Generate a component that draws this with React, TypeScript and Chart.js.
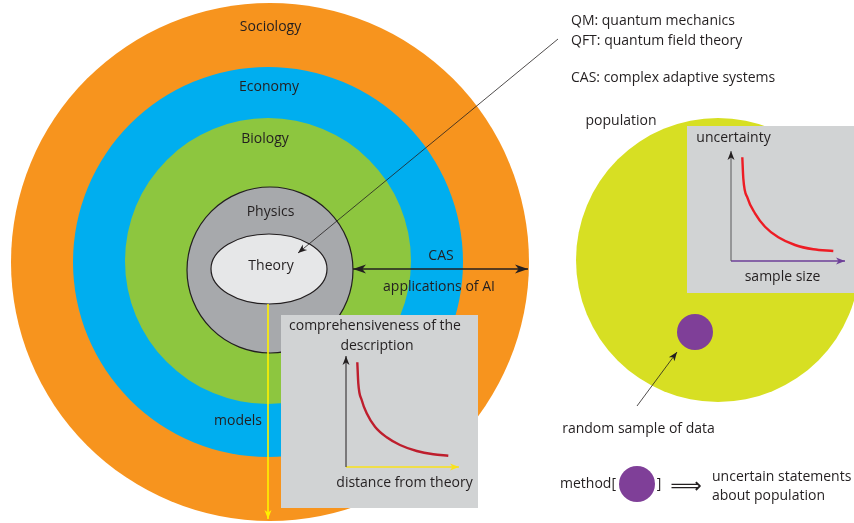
import { useEffect, useRef } from "react";
import { Chart, registerables } from "chart.js";
Chart.register(...registerables);

const W = 854;
const H = 523;

// Concentric fields (outer → inner)
const FIELDS = ["Sociology", "Economy", "Biology", "Physics"];
const FIELD_X = [270, 268, 268, 270];
const FIELD_Y = [262, 262, 261, 270];
const FIELD_R = [259, 195, 143, 83];
const FIELD_LABEL_X = [270.5, 269, 265, 270.5];
const FIELD_LABEL_Y = [27, 87, 139, 212];

// Theory ellipse
const THEORY = ["Theory"];
const THEORY_X = [269];
const THEORY_Y = [269];
const THEORY_RX = [58];
const THEORY_RY = [35];

// Population & samples
const POP_X = [718];
const POP_Y = [260];
const POP_R = [142];
const SAMPLE_X = [695, 637];
const SAMPLE_Y = [332, 484];
const SAMPLE_R = [18, 18];

// Inset boxes
const BOX_X0 = [281, 687];
const BOX_X1 = [478, 854];
const BOX_Y0 = [315, 126];
const BOX_Y1 = [508, 293];

// Inset curves
const CURVE1_X = [357.3, 358.3, 361.7, 366.7, 375, 386.7, 400, 416.7, 433.3, 448.3];
const CURVE1_Y = [362.3, 383.3, 400, 413.3, 426.7, 437.3, 445, 451, 454.3, 455.7];
const CURVE2_X = [742.3, 743.3, 747.7, 755, 765, 778.3, 795, 813.3, 833.3];
const CURVE2_Y = [157.3, 178.3, 198.3, 213.3, 226.7, 237.3, 245, 249.3, 251];

// Arrows
const ARROWS = ["pointer", "cas", "models", "axis1y", "axis1x", "axis2y", "axis2x", "sample"];
const ARROW_X0 = [558, 353, 268, 346, 346, 731, 731, 637];
const ARROW_Y0 = [39, 269, 304, 467, 467, 261, 261, 406];
const ARROW_X1 = [298, 528, 268, 346, 459, 731, 845, 677];
const ARROW_Y1 = [253, 269, 519, 356, 467, 151, 261, 352];
const ARROW_BOTH = [false, true, false, false, false, false, false, false];

// Text labels
const TEXTS = [
  "QM: quantum mechanics",
  "QFT: quantum field theory",
  "CAS: complex adaptive systems",
  "population",
  "uncertainty",
  "sample size",
  "random sample of data",
  "method[",
  "]",
  "\u27F9",
  "uncertain statements",
  "about population",
  "comprehensiveness of the",
  "description",
  "distance from theory",
  "CAS",
  "applications of AI",
  "models",
];
const TEXT_X = [571, 571, 571, 621, 733.5, 782.5, 638.5, 588, 659, 686, 712, 712, 375, 377, 404.5, 441, 439, 238];
const TEXT_Y = [21, 41, 78, 121, 138, 277, 429, 484, 484, 487, 477, 496, 326, 346, 483, 256, 287, 421];
const TEXT_ALIGN = ["left", "left", "left", "center", "center", "center", "center", "center", "center", "center", "left", "left", "center", "center", "center", "center", "center", "center"];

const FIELD_COLORS = ["#f7941e", "#00aeef", "#8dc63f"];
const POP_COLOR = "#d7df23";
const TEXT_COLOR = "#231f20";
const ARROW_COLORS = ["#231f20", "#231f20", "#fff200", "#231f20", "#f9e21b", "#58595b", "#6d3f98", "#231f20"];
const ARROW_HEAD_COLORS = ["#231f20", "#231f20", "#fff200", "#231f20", "#f9e21b", "#231f20", "#6d3f98", "#231f20"];
const ARROW_WIDTHS = [0.8, 1.3, 1.6, 1, 1.6, 1, 1.4, 0.8];
const FONT = "14px 'Open Sans', 'Noto Sans', sans-serif";

function drawHead(ctx: CanvasRenderingContext2D, x1: number, y1: number, x2: number, y2: number, color: string, len: number, half: number) {
  const a = Math.atan2(y2 - y1, x2 - x1);
  ctx.save();
  ctx.translate(x2, y2);
  ctx.rotate(a);
  ctx.beginPath();
  ctx.moveTo(0, 0);
  ctx.lineTo(-len, half);
  ctx.lineTo(-len * 0.72, 0);
  ctx.lineTo(-len, -half);
  ctx.closePath();
  ctx.fillStyle = color;
  ctx.fill();
  ctx.restore();
}

const diagramPlugin = {
  id: "diagram",
  afterDatasetDraw(chart: any, args: any) {
    const ds = chart.data.datasets[args.index];
    if (ds.label !== "Physics") return;
    const ctx = chart.ctx as CanvasRenderingContext2D;
    const xs = chart.scales.x;
    const ys = chart.scales.y;
    THEORY.forEach((_, i) => {
      const cx = xs.getPixelForValue(THEORY_X[i]);
      const cy = ys.getPixelForValue(THEORY_Y[i]);
      const rx = Math.abs(xs.getPixelForValue(THEORY_X[i] + THEORY_RX[i]) - cx);
      const ry = Math.abs(ys.getPixelForValue(THEORY_Y[i] + THEORY_RY[i]) - cy);
      ctx.save();
      ctx.beginPath();
      ctx.ellipse(cx, cy, rx, ry, 0, 0, Math.PI * 2);
      ctx.fillStyle = "#e6e7e8";
      ctx.fill();
      ctx.lineWidth = 1.2;
      ctx.strokeStyle = TEXT_COLOR;
      ctx.stroke();
      ctx.restore();
    });
    BOX_X0.forEach((_, i) => {
      const x0 = xs.getPixelForValue(BOX_X0[i]);
      const x1 = xs.getPixelForValue(BOX_X1[i]);
      const y0 = ys.getPixelForValue(BOX_Y0[i]);
      const y1 = ys.getPixelForValue(BOX_Y1[i]);
      ctx.save();
      ctx.fillStyle = "#d1d3d4";
      ctx.fillRect(Math.min(x0, x1), Math.min(y0, y1), Math.abs(x1 - x0), Math.abs(y1 - y0));
      ctx.restore();
    });
  },
  afterDatasetsDraw(chart: any) {
    const ctx = chart.ctx as CanvasRenderingContext2D;
    const xs = chart.scales.x;
    const ys = chart.scales.y;
    ARROWS.forEach((_, i) => {
      const x0 = xs.getPixelForValue(ARROW_X0[i]);
      const y0 = ys.getPixelForValue(ARROW_Y0[i]);
      const x1 = xs.getPixelForValue(ARROW_X1[i]);
      const y1 = ys.getPixelForValue(ARROW_Y1[i]);
      const big = i === 1;
      const len = big ? 13 : 9;
      const half = big ? 4.5 : 3.5;
      drawHead(ctx, x0, y0, x1, y1, ARROW_HEAD_COLORS[i], len, half);
      if (ARROW_BOTH[i]) drawHead(ctx, x1, y1, x0, y0, ARROW_HEAD_COLORS[i], len, half);
    });
    ctx.save();
    ctx.fillStyle = TEXT_COLOR;
    ctx.textBaseline = "middle";
    ctx.font = FONT;
    ctx.textAlign = "center";
    FIELDS.forEach((t, i) => {
      ctx.fillText(t, xs.getPixelForValue(FIELD_LABEL_X[i]), ys.getPixelForValue(FIELD_LABEL_Y[i]));
    });
    THEORY.forEach((t, i) => {
      ctx.fillText(t, xs.getPixelForValue(THEORY_X[i] + 2), ys.getPixelForValue(THEORY_Y[i] - 3));
    });
    TEXTS.forEach((t, i) => {
      ctx.textAlign = TEXT_ALIGN[i] as CanvasTextAlign;
      ctx.font = t === "\u27F9" ? "22px 'DejaVu Sans', sans-serif" : FONT;
      ctx.fillText(t, xs.getPixelForValue(TEXT_X[i]), ys.getPixelForValue(TEXT_Y[i]));
    });
    ctx.restore();
  },
};

export default function App() {
  const ref = useRef<HTMLCanvasElement>(null);
  useEffect(() => {
    document.body.style.margin = "0";
    const fieldPts = FIELD_X.slice(0, 3).map((x, i) => ({ x, y: FIELD_Y[i], r: FIELD_R[i] }));
    const popPts = POP_X.map((x, i) => ({ x, y: POP_Y[i], r: POP_R[i] }));
    const datasets: any[] = [
      {
        type: "bubble",
        label: "Fields",
        data: [...fieldPts, ...popPts],
        backgroundColor: [...FIELD_COLORS, POP_COLOR],
        borderWidth: 0,
        order: 100,
        clip: false,
      },
      {
        type: "bubble",
        label: "Physics",
        data: [{ x: FIELD_X[3], y: FIELD_Y[3], r: FIELD_R[3] }],
        backgroundColor: "#a7a9ac",
        borderColor: TEXT_COLOR,
        borderWidth: 1.2,
        order: 90,
        clip: false,
      },
      ...ARROWS.map((name, i) => ({
        type: "line",
        label: name,
        data: [
          { x: ARROW_X0[i], y: ARROW_Y0[i] },
          { x: ARROW_X1[i], y: ARROW_Y1[i] },
        ],
        borderColor: ARROW_COLORS[i],
        borderWidth: ARROW_WIDTHS[i],
        pointRadius: 0,
        fill: false,
        tension: 0,
        order: 50,
        clip: false,
      })),
      {
        type: "line",
        label: "curve1",
        data: CURVE1_X.map((x, i) => ({ x, y: CURVE1_Y[i] })),
        borderColor: "#be1e2d",
        borderWidth: 2.4,
        pointRadius: 0,
        fill: false,
        cubicInterpolationMode: "monotone",
        order: 45,
        clip: false,
      },
      {
        type: "line",
        label: "curve2",
        data: CURVE2_X.map((x, i) => ({ x, y: CURVE2_Y[i] })),
        borderColor: "#ed1c24",
        borderWidth: 2.4,
        pointRadius: 0,
        fill: false,
        cubicInterpolationMode: "monotone",
        order: 45,
        clip: false,
      },
      {
        type: "bubble",
        label: "Samples",
        data: SAMPLE_X.map((x, i) => ({ x, y: SAMPLE_Y[i], r: SAMPLE_R[i] })),
        backgroundColor: "#7f3f98",
        borderWidth: 0,
        order: 40,
        clip: false,
      },
    ];
    const chart = new Chart(ref.current as HTMLCanvasElement, {
      type: "scatter",
      data: { datasets },
      options: {
        responsive: false,
        animation: false,
        events: [],
        layout: { padding: 0, autoPadding: false },
        plugins: { legend: { display: false }, tooltip: { enabled: false } },
        scales: {
          x: { type: "linear", min: 0, max: W, display: false },
          y: { type: "linear", min: 0, max: H, reverse: true, display: false },
        },
      } as any,
      plugins: [diagramPlugin],
    });
    return () => chart.destroy();
  }, []);
  return (
    <div style={{ width: W, height: H, background: "#fff" }}>
      <canvas ref={ref} width={W} height={H} style={{ display: "block" }} />
    </div>
  );
}
